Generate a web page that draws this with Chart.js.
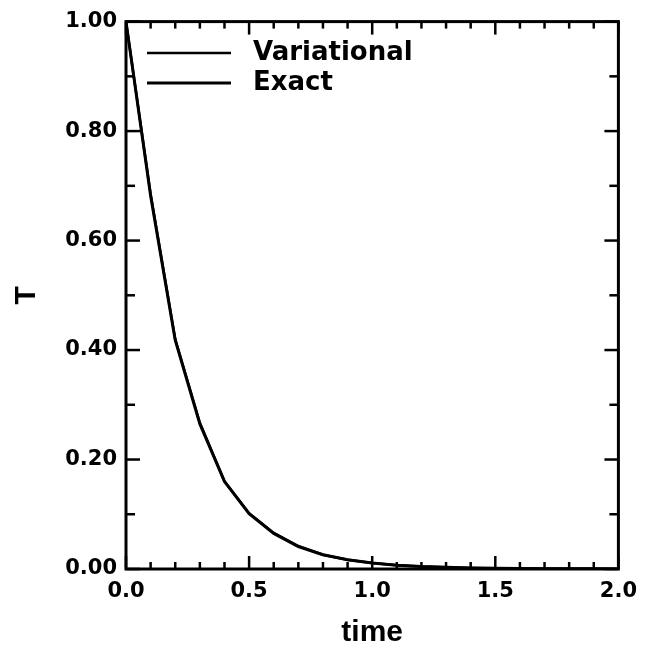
<!DOCTYPE html>
<html><head><meta charset="utf-8">
<script src="https://cdn.jsdelivr.net/npm/chart.js@4"></script>
<style>html,body{margin:0;padding:0;background:#fff}canvas{display:block}</style>
</head><body>
<canvas id="c" width="647" height="651"></canvas>
<script>
// ---- data ----
const timeValues   = [0.0, 0.1, 0.2, 0.3, 0.4, 0.5, 0.6, 0.7, 0.8, 0.9, 1.0, 1.1, 1.2, 1.3, 1.4, 1.5, 1.6, 1.7, 1.8, 1.9, 2.0];
const variationalT = [1.000, 0.685, 0.420, 0.267, 0.160, 0.102, 0.066, 0.042, 0.026, 0.017, 0.011, 0.007, 0.0045, 0.003, 0.002, 0.0013, 0.0009, 0.0006, 0.0004, 0.0003, 0.0002];
const exactT       = [1.000, 0.682, 0.418, 0.265, 0.160, 0.101, 0.065, 0.041, 0.026, 0.017, 0.011, 0.007, 0.0045, 0.003, 0.002, 0.0013, 0.0009, 0.0006, 0.0004, 0.0003, 0.0002];
const seriesNames  = ['Variational', 'Exact'];
const xTickValues  = [0, 0.5, 1.0, 1.5, 2.0];
const yTickValues  = [0, 0.2, 0.4, 0.6, 0.8, 1.0];
const xTickMarks   = [0, 0.1, 0.2, 0.3, 0.4, 0.5, 0.6, 0.7, 0.8, 0.9, 1.0, 1.1, 1.2, 1.3, 1.4, 1.5, 1.6, 1.7, 1.8, 1.9, 2.0];
const yTickMarks   = [0, 0.1, 0.2, 0.3, 0.4, 0.5, 0.6, 0.7, 0.8, 0.9, 1.0];
const xTitle = 'time';
const yTitle = 'T';

// ---- legend line glyphs (style only) ----
function legendLine(w) {
  const c = document.createElement('canvas');
  c.width = 110; c.height = 8;
  const g = c.getContext('2d');
  g.strokeStyle = '#000'; g.lineWidth = w;
  g.beginPath(); g.moveTo(17, 4); g.lineTo(101, 4); g.stroke();
  return c;
}
const legendGlyphs = [legendLine(2.5), legendLine(3.2)];

const frameTicks = {
  id: 'frameTicks',
  afterDatasetsDraw(chart) {
    const {ctx, chartArea: a, scales: {x, y}} = chart;
    ctx.save();
    ctx.strokeStyle = '#000';
    ctx.lineWidth = 2.5;
    const seg = (x1, y1, x2, y2) => { ctx.beginPath(); ctx.moveTo(x1, y1); ctx.lineTo(x2, y2); ctx.stroke(); };
    xTickMarks.forEach(v => {
      const px = x.getPixelForValue(v);
      const len = xTickValues.includes(v) ? 13 : 7;
      seg(px, a.bottom, px, a.bottom - len);
      seg(px, a.top, px, a.top + len);
    });
    yTickMarks.forEach(v => {
      const py = y.getPixelForValue(v);
      const len = yTickValues.includes(v) ? 14 : 9;
      seg(a.left, py, a.left + len, py);
      seg(a.right, py, a.right - len, py);
    });
    ctx.lineWidth = 3;
    ctx.strokeRect(a.left, a.top, a.right - a.left, a.bottom - a.top);
    ctx.restore();
  }
};

const tickFont = {family: 'DejaVu Sans', weight: 'bold', size: 21};
const titleFont = {family: 'Liberation Sans', weight: 'bold', size: 30, lineHeight: 1.2};

new Chart(document.getElementById('c'), {
  type: 'line',
  data: {
    datasets: [
      {label: seriesNames[0], data: timeValues.map((t, i) => ({x: t, y: variationalT[i]})),
       borderColor: '#000', backgroundColor: '#000', borderWidth: 2.5, pointRadius: 0, tension: 0},
      {label: seriesNames[1], data: timeValues.map((t, i) => ({x: t, y: exactT[i]})),
       borderColor: '#000', backgroundColor: '#000', borderWidth: 3, pointRadius: 0, tension: 0}
    ]
  },
  options: {
    responsive: false,
    animation: false,
    devicePixelRatio: 1,
    layout: {padding: {top: 20, right: 26, left: 0, bottom: 0}},
    plugins: {
      tooltip: {enabled: false},
      legend: {
        position: 'chartArea',
        align: 'start',
        title: {display: true, text: '', font: {size: 10, lineHeight: 1.2}, padding: {top: 24, bottom: 0}},
        labels: {
          usePointStyle: true,
          pointStyleWidth: 110,
          padding: 4,
          color: '#000',
          font: {family: 'DejaVu Sans', weight: 'bold', size: 26},
          generateLabels: (chart) => Chart.defaults.plugins.legend.labels.generateLabels(chart)
            .map((l, i) => Object.assign(l, {pointStyle: legendGlyphs[i]}))
        }
      }
    },
    scales: {
      x: {
        type: 'linear', min: 0, max: 2,
        afterBuildTicks: s => { s.ticks = xTickValues.map(v => ({value: v})); },
        afterFit: s => { s.height = 82; },
        ticks: {autoSkip: false, maxRotation: 0, padding: 10, color: '#000', font: tickFont,
                callback: v => Number(v).toFixed(1)},
        grid: {display: false, drawTicks: false},
        border: {display: false},
        title: {display: true, text: xTitle, color: '#000', font: titleFont, padding: {top: 0, bottom: 0}}
      },
      y: {
        type: 'linear', min: 0, max: 1,
        afterBuildTicks: s => { s.ticks = yTickValues.map(v => ({value: v})); },
        afterFit: s => { s.width = 126; },
        ticks: {autoSkip: false, padding: 9, color: '#000', font: tickFont,
                callback: v => Number(v).toFixed(2)},
        grid: {display: false, drawTicks: false},
        border: {display: false},
        title: {display: true, text: yTitle, color: '#000', font: titleFont, padding: {top: 9, bottom: 0}}
      }
    }
  },
  plugins: [frameTicks]
});
</script>
</body></html>
